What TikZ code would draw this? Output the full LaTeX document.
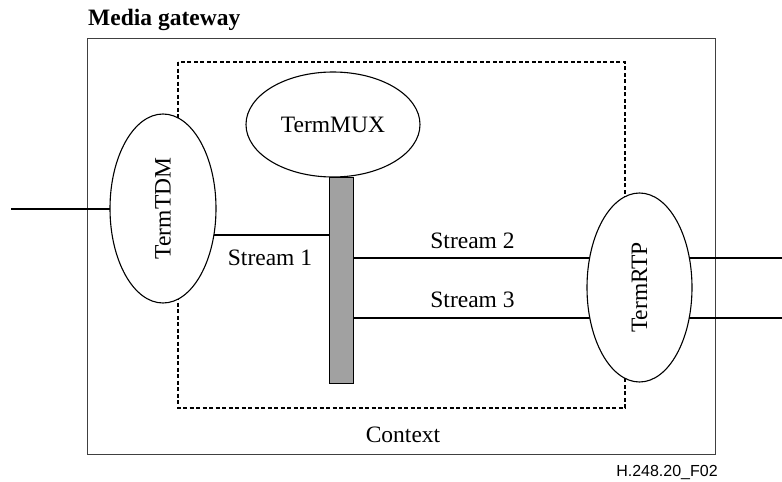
\documentclass[tikz,border=0pt]{standalone}
\usepackage{fontspec}
\setmainfont{Liberation Serif}
\newfontfamily\arialfont{Liberation Sans}
\usetikzlibrary{shapes.geometric,backgrounds}
\tikzset{
  term/.style={ellipse, draw, line width=1.1pt, fill=white, inner sep=0pt},
  wire/.style={line width=1.4pt},
  lbl/.style={inner sep=0pt, font=\fontsize{23.5}{28}\selectfont},
}
\begin{document}
\begin{tikzpicture}[x=1pt,y=-1pt]
\useasboundingbox (0,0) rectangle (782,482);
% terminations
\node[term, rotate=90, minimum width=189pt, minimum height=106pt] (tdm) at (163,208.5) {};
\node[lbl, rotate=90] (tdmt) at (tdm.center) {TermTDM};
\node[term, minimum width=174pt, minimum height=105pt] (mux) at (333,124.5) {};
\node[lbl] (muxt) at (mux.center) {TermMUX};
\node[term, rotate=90, minimum width=189pt, minimum height=105pt] (rtp) at (639.5,287.5) {};
\node[lbl, rotate=90] (rtpt) at (rtp.center) {TermRTP};
\node[draw, line width=1pt, fill=black!37, minimum width=24pt, minimum height=206pt, inner sep=0pt, anchor=north] (bar) at (341,177) {};
% labels
\node[lbl, font=\bfseries\fontsize{23.5}{28}\selectfont, anchor=west] (mg) at (88,20) {Media gateway};
\node[lbl] (s1t) at (270,258) {Stream 1};
\node[lbl] (s2t) at (472.5,241) {Stream 2};
\node[lbl] (s3t) at (472.5,300) {Stream 3};
\node[lbl] (ctx) at (403,435) {Context};
\node[inner sep=0pt, font=\arialfont\fontsize{16}{19}\selectfont] (fig) at (667,472) {H.248.20\_F02};
% free ends
\coordinate (inL) at (11,209);
\coordinate (outR2) at (782,258);
\coordinate (outR3) at (782,318);
\coordinate (b1) at (329,235);
\coordinate (b2) at (353,258);
\coordinate (b3) at (353,318);
\begin{pgfonlayer}{background}
\draw[line width=1pt, draw=black!75] (87,38) rectangle (715,454);
\draw[line width=1.3pt, dash pattern=on 4pt off 2.5pt] (178,62) rectangle (625,408);
\draw[wire] (inL) -- (tdm.center |- inL);
\draw[wire] (b1) -- (tdm.center |- b1);
\draw[wire] (b2) -- (rtp.center |- b2);
\draw[wire] (b3) -- (rtp.center |- b3);
\draw[wire] (rtp.center |- outR2) -- (outR2);
\draw[wire] (rtp.center |- outR3) -- (outR3);
\end{pgfonlayer}
\end{tikzpicture}
\end{document}
